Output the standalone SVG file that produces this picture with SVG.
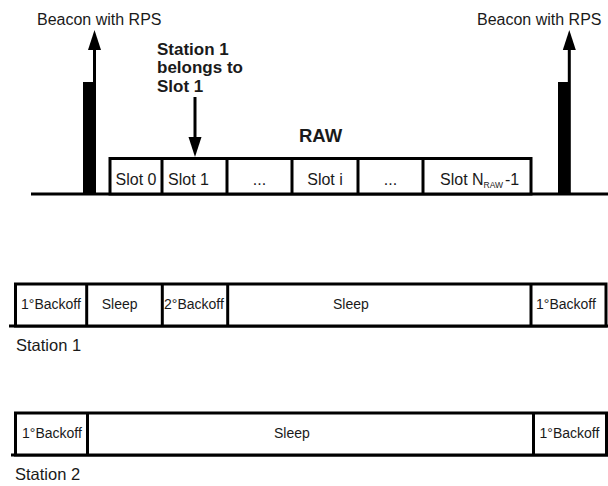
<svg xmlns="http://www.w3.org/2000/svg" width="608" height="486" viewBox="0 0 608 486">
<style>
text{font-family:"Liberation Sans",Arial,sans-serif;fill:#1a1a1a}
.lbl{font-size:16px}
.sm{font-size:14px}
.st{font-size:16.5px}
.b{font-weight:bold;font-size:17px}
.ln{stroke:#000;stroke-width:3;fill:none}
.box{stroke:#000;stroke-width:3;fill:#fff}
.ah{fill:#000}
</style>
<rect width="608" height="486" fill="#fff"/>
<!-- timeline -->
<line class="ln" x1="31" y1="194" x2="608" y2="194"/>
<g id="beacon-left">
<rect x="83" y="82" width="10" height="112" fill="#000"/>
<text class="lbl" x="37" y="25">Beacon with RPS</text>
</g>
<g id="beacon-right">
<rect x="558" y="82" width="10" height="112" fill="#000"/>
<text class="lbl" x="477" y="25">Beacon with RPS</text>
</g>
<g id="raw">
<text class="b" x="299" y="142" style="font-size:18.5px">RAW</text>
<rect class="box" x="110" y="158.5" width="421" height="35.5" stroke-width="2.5"/>
<line class="ln" x1="162" y1="158.5" x2="162" y2="194"/>
<line class="ln" x1="227" y1="158.5" x2="227" y2="194"/>
<line class="ln" x1="292" y1="158.5" x2="292" y2="194"/>
<line class="ln" x1="358" y1="158.5" x2="358" y2="194"/>
<line class="ln" x1="423" y1="158.5" x2="423" y2="194"/>
<text class="lbl" x="136" y="184.5" text-anchor="middle">Slot 0</text>
<text class="lbl" x="168" y="184.5">Slot 1</text>
<text class="lbl" x="259.5" y="184.5" text-anchor="middle">...</text>
<text class="lbl" x="325" y="184.5" text-anchor="middle">Slot i</text>
<text class="lbl" x="390.5" y="184.5" text-anchor="middle">...</text>
<text class="lbl" x="440" y="184.5">Slot N<tspan font-size="8.5" dy="3">RAW</tspan><tspan x="505" dy="-3">-1</tspan></text>
</g>
<g id="note">
<text class="b" x="157" y="54.5">Station 1</text>
<text class="b" x="157" y="73">belongs to</text>
<text class="b" x="157" y="91.5">Slot 1</text>
</g>
<g id="station1">
<line class="ln" x1="9" y1="326" x2="608" y2="326"/>
<rect class="box" x="15.5" y="284" width="590.5" height="42"/>
<line class="ln" x1="86.7" y1="284" x2="86.7" y2="326"/>
<line class="ln" x1="162.3" y1="284" x2="162.3" y2="326"/>
<line class="ln" x1="227.7" y1="284" x2="227.7" y2="326"/>
<line class="ln" x1="531" y1="284" x2="531" y2="326"/>
<text class="sm" x="21" y="309">1°Backoff</text>
<text class="sm" x="101.7" y="309">Sleep</text>
<text class="sm" x="164" y="309">2°Backoff</text>
<text class="sm" x="333" y="309">Sleep</text>
<text class="sm" x="536" y="309">1°Backoff</text>
<text class="st" x="16" y="351">Station 1</text>
</g>
<g id="station2">
<line class="ln" x1="11" y1="455" x2="608" y2="455"/>
<rect class="box" x="15.5" y="413" width="591" height="42"/>
<line class="ln" x1="87.5" y1="413" x2="87.5" y2="455"/>
<line class="ln" x1="533.5" y1="413" x2="533.5" y2="455"/>
<text class="sm" x="22" y="438">1°Backoff</text>
<text class="sm" x="274" y="438">Sleep</text>
<text class="sm" x="539.5" y="438">1°Backoff</text>
<text class="st" x="15" y="480">Station 2</text>
</g>
<g id="connectors">
<line class="ln" x1="94.5" y1="194" x2="94.5" y2="48"/>
<polygon class="ah" points="88,50 101,50 94.5,30"/>
<line class="ln" x1="569.3" y1="194" x2="569.3" y2="48"/>
<polygon class="ah" points="562.8,50 575.8,50 569.3,30"/>
<line class="ln" x1="195" y1="97" x2="195" y2="139"/>
<polygon class="ah" points="188.5,137 201.5,137 195,157"/>
</g>
</svg>
